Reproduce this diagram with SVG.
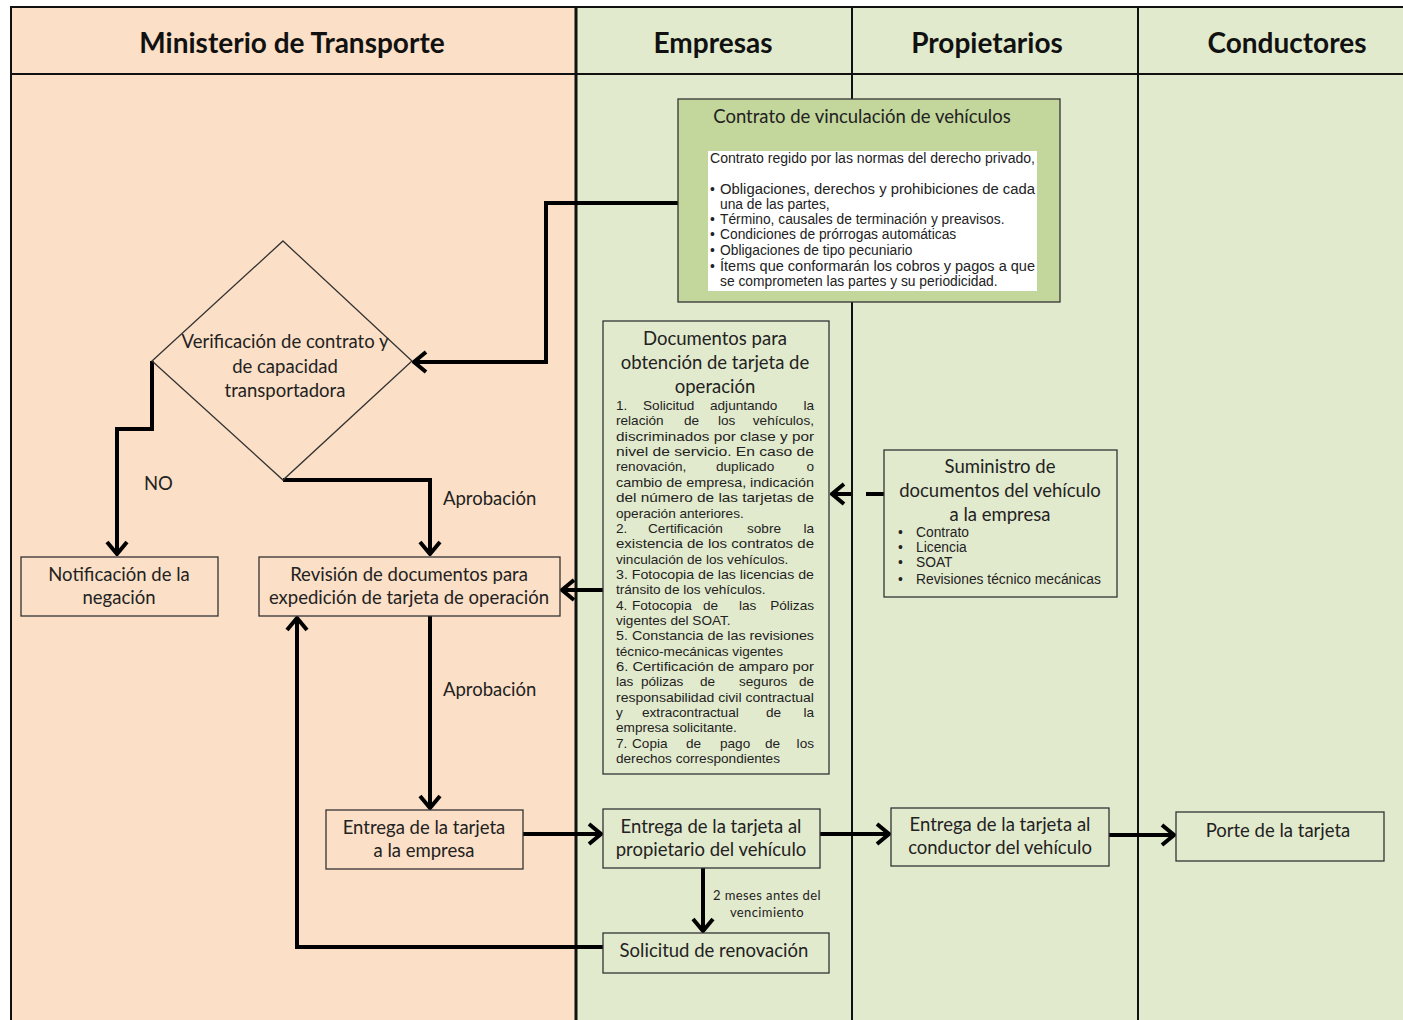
<svg xmlns="http://www.w3.org/2000/svg" width="1403" height="1020" viewBox="0 0 1403 1020">
  <style>
    .lane-mt { fill: #FBDFC6; }
    .lane-gr { fill: #E2EACD; }
    .frame { stroke: #111; stroke-width: 2; fill: none; }
    .hdr { font-family: Lato, "Liberation Sans", sans-serif; font-weight: bold; font-size: 28px; fill: #111; text-anchor: middle; }
    .box { stroke: #333; stroke-width: 1.3; }
    .peach { fill: #FBDFC6; }
    .green { fill: #E2EACD; }
    .t { font-family: Lato, "Liberation Sans", sans-serif; font-size: 18.5px; fill: #222; text-anchor: middle; }
    .tl { font-family: Lato, "Liberation Sans", sans-serif; font-size: 18.5px; fill: #222; }
    .sm { font-family: "Liberation Sans", Arial, sans-serif; font-size: 13.6px; fill: #222; }
    .sm13 { font-family: "Liberation Sans", Arial, sans-serif; font-size: 13.8px; fill: #222; }
    .end { text-anchor: end; }
    .note { font-family: Lato, "Liberation Sans", sans-serif; font-size: 13px; letter-spacing: 0.4px; fill: #222; text-anchor: middle; }
    .conn { fill: none; stroke: #000; stroke-width: 4; stroke-linejoin: miter; marker-end: url(#arr); }
  </style>
  <defs>
    <marker id="arr" markerUnits="userSpaceOnUse" viewBox="0 0 16 24" markerWidth="16" markerHeight="24" refX="14" refY="12" orient="auto">
      <path d="M2,2 L14,12 L2,22" fill="none" stroke="#000" stroke-width="4"/>
    </marker>
  </defs>

  <!-- swimlane backgrounds -->
  <rect class="lane-mt" x="11" y="6" width="565" height="1014"/>
  <rect class="lane-gr" x="576" y="6" width="827" height="1014"/>

  <!-- lane frame and headers -->
  <g id="lanes">
    <line class="frame" x1="11" y1="7" x2="1403" y2="7"/>
    <line class="frame" x1="11" y1="6" x2="11" y2="1020"/>
    <line class="frame" x1="11" y1="74" x2="1403" y2="74"/>
    <line class="frame" x1="576" y1="6" x2="576" y2="1020" style="stroke-width:3"/>
    <line class="frame" x1="852" y1="6" x2="852" y2="1020"/>
    <line class="frame" x1="1138" y1="6" x2="1138" y2="1020"/>
    <text class="hdr" x="292" y="53">Ministerio de Transporte</text>
    <text class="hdr" x="713" y="53">Empresas</text>
    <text class="hdr" x="987" y="53">Propietarios</text>
    <text class="hdr" x="1287" y="53">Conductores</text>
  </g>

  <!-- connectors -->
  <g id="connectors">
    <path class="conn" d="M678,203 H546 V362 H414"/>
    <path class="conn" d="M152,361 V429 H117 V554"/>
    <path class="conn" d="M283,480 H430 V554"/>
    <path class="conn" d="M603,590 H562"/>
    <path class="conn" d="M884,494 H866 M851,494 H832"/>
    <path class="conn" d="M430,616 V808"/>
    <path class="conn" d="M523,834 H601"/>
    <path class="conn" d="M820,834 H889"/>
    <path class="conn" d="M1109,835 H1174"/>
    <path class="conn" d="M703,868 V931"/>
    <path class="conn" d="M603,947 H297 V618"/>
    <text class="tl" x="144" y="490">NO</text>
    <text class="tl" x="443" y="505">Aprobación</text>
    <text class="tl" x="443" y="696">Aprobación</text>
    <text class="note" x="767" y="900">2 meses antes del</text>
    <text class="note" x="767" y="917">vencimiento</text>
  </g>

  <!-- Contrato de vinculación -->
  <g id="contrato">
    <rect class="box" x="678" y="99" width="382" height="203" fill="#C3D69B"/>
    <text class="t" x="862" y="123">Contrato de vinculación de vehículos</text>
    <rect x="708" y="151" width="329" height="140" fill="#fff"/>
    <text class="sm13" x="710" y="163" textLength="325" lengthAdjust="spacingAndGlyphs">Contrato regido por las normas del derecho privado,</text>
    <text class="sm13" x="710" y="194">•</text>
    <text class="sm13" x="720" y="194" textLength="315" lengthAdjust="spacingAndGlyphs">Obligaciones, derechos y prohibiciones de cada</text>
    <text class="sm13" x="720" y="209">una de las partes,</text>
    <text class="sm13" x="710" y="224">•</text>
    <text class="sm13" x="720" y="224">Término, causales de terminación y preavisos.</text>
    <text class="sm13" x="710" y="239">•</text>
    <text class="sm13" x="720" y="239">Condiciones de prórrogas automáticas</text>
    <text class="sm13" x="710" y="255">•</text>
    <text class="sm13" x="720" y="255">Obligaciones de tipo pecuniario</text>
    <text class="sm13" x="710" y="271">•</text>
    <text class="sm13" x="720" y="271" textLength="315" lengthAdjust="spacingAndGlyphs">Ítems que conformarán los cobros y pagos a que</text>
    <text class="sm13" x="720" y="286">se comprometen las partes y su periodicidad.</text>
  </g>

  <!-- Verificación (decision) -->
  <g id="verificacion">
    <polygon class="box" points="283,241 412,361 283,480 152,361" fill="none" stroke-width="1.8"/>
    <text class="t" x="285" y="348">Verificación de contrato y</text>
    <text class="t" x="285" y="373">de capacidad</text>
    <text class="t" x="285" y="397">transportadora</text>
  </g>

  <!-- Documentos para obtención de tarjeta -->
  <g id="documentos">
    <rect class="box green" x="603" y="321" width="226" height="453"/>
    <text class="t" x="715" y="345">Documentos para</text>
    <text class="t" x="715" y="369">obtención de tarjeta de</text>
    <text class="t" x="715" y="393">operación</text>
    <text class="sm" y="410"><tspan x="616">1.</tspan><tspan x="643">Solicitud</tspan><tspan x="710">adjuntando</tspan></text><text class="sm end" x="814" y="410">la</text>
    <text class="sm" y="425.4"><tspan x="616">relación</tspan><tspan x="684">de</tspan><tspan x="718">los</tspan></text><text class="sm end" x="814" y="425.4">vehículos,</text>
    <text class="sm" x="616" y="440.7" textLength="198" lengthAdjust="spacingAndGlyphs">discriminados por clase y por</text>
    <text class="sm" x="616" y="456.1" textLength="198" lengthAdjust="spacingAndGlyphs">nivel de servicio. En caso de</text>
    <text class="sm" y="471.4"><tspan x="616">renovación,</tspan><tspan x="716">duplicado</tspan></text><text class="sm end" x="814" y="471.4">o</text>
    <text class="sm" x="616" y="486.8" textLength="198" lengthAdjust="spacingAndGlyphs">cambio de empresa, indicación</text>
    <text class="sm" x="616" y="502.1" textLength="198" lengthAdjust="spacingAndGlyphs">del número de las tarjetas de</text>
    <text class="sm" x="616" y="517.5">operación anteriores.</text>
    <text class="sm" y="532.8"><tspan x="616">2.</tspan><tspan x="648">Certificación</tspan><tspan x="747">sobre</tspan></text><text class="sm end" x="814" y="532.8">la</text>
    <text class="sm" x="616" y="548.2" textLength="198" lengthAdjust="spacingAndGlyphs">existencia de los contratos de</text>
    <text class="sm" x="616" y="563.5">vinculación de los vehículos.</text>
    <text class="sm" x="616" y="578.9" textLength="198" lengthAdjust="spacingAndGlyphs">3. Fotocopia de las licencias de</text>
    <text class="sm" x="616" y="594.2">tránsito de los vehículos.</text>
    <text class="sm" y="609.6"><tspan x="616">4.</tspan><tspan x="632">Fotocopia</tspan><tspan x="703">de</tspan><tspan x="739">las</tspan></text><text class="sm end" x="814" y="609.6">Pólizas</text>
    <text class="sm" x="616" y="624.9">vigentes del SOAT.</text>
    <text class="sm" x="616" y="640.3" textLength="198" lengthAdjust="spacingAndGlyphs">5. Constancia de las revisiones</text>
    <text class="sm" x="616" y="655.6">técnico-mecánicas vigentes</text>
    <text class="sm" x="616" y="671" textLength="198" lengthAdjust="spacingAndGlyphs">6. Certificación de amparo por</text>
    <text class="sm" y="686.3"><tspan x="616">las</tspan><tspan x="641">pólizas</tspan><tspan x="700">de</tspan><tspan x="739">seguros</tspan></text><text class="sm end" x="814" y="686.3">de</text>
    <text class="sm" x="616" y="701.7" textLength="198" lengthAdjust="spacingAndGlyphs">responsabilidad civil contractual</text>
    <text class="sm" y="717"><tspan x="616">y</tspan><tspan x="642">extracontractual</tspan><tspan x="766">de</tspan></text><text class="sm end" x="814" y="717">la</text>
    <text class="sm" x="616" y="732.4">empresa solicitante.</text>
    <text class="sm" y="747.7"><tspan x="616">7.</tspan><tspan x="632">Copia</tspan><tspan x="686">de</tspan><tspan x="720">pago</tspan><tspan x="765">de</tspan></text><text class="sm end" x="814" y="747.7">los</text>
    <text class="sm" x="616" y="763">derechos correspondientes</text>
  </g>

  <!-- Suministro de documentos -->
  <g id="suministro">
    <rect class="box green" x="884" y="450" width="233" height="147"/>
    <text class="t" x="1000" y="473">Suministro de</text>
    <text class="t" x="1000" y="497">documentos del vehículo</text>
    <text class="t" x="1000" y="521">a la empresa</text>
    <text class="sm13" x="898" y="537">•</text><text class="sm13" x="916" y="537">Contrato</text>
    <text class="sm13" x="898" y="552">•</text><text class="sm13" x="916" y="552">Licencia</text>
    <text class="sm13" x="898" y="567">•</text><text class="sm13" x="916" y="567">SOAT</text>
    <text class="sm13" x="898" y="584">•</text><text class="sm13" x="916" y="584">Revisiones técnico mecánicas</text>
  </g>

  <!-- Notificación de la negación -->
  <g id="notificacion">
    <rect class="box peach" x="21" y="557" width="197" height="59"/>
    <text class="t" x="119" y="581">Notificación de la</text>
    <text class="t" x="119" y="604">negación</text>
  </g>

  <!-- Revisión de documentos -->
  <g id="revision">
    <rect class="box peach" x="259" y="557" width="301" height="59"/>
    <text class="t" x="409" y="581">Revisión de documentos para</text>
    <text class="t" x="409" y="604">expedición de tarjeta de operación</text>
  </g>

  <!-- Entrega a la empresa -->
  <g id="entrega-empresa">
    <rect class="box peach" x="326" y="810" width="197" height="59"/>
    <text class="t" x="424" y="834">Entrega de la tarjeta</text>
    <text class="t" x="424" y="857">a la empresa</text>
  </g>

  <!-- Entrega al propietario -->
  <g id="entrega-propietario">
    <rect class="box green" x="603" y="809" width="217" height="59"/>
    <text class="t" x="711" y="833">Entrega de la tarjeta al</text>
    <text class="t" x="711" y="856">propietario del vehículo</text>
  </g>

  <!-- Entrega al conductor -->
  <g id="entrega-conductor">
    <rect class="box green" x="891" y="808" width="218" height="58"/>
    <text class="t" x="1000" y="831">Entrega de la tarjeta al</text>
    <text class="t" x="1000" y="854">conductor del vehículo</text>
  </g>

  <!-- Porte de la tarjeta -->
  <g id="porte">
    <rect class="box green" x="1176" y="812" width="208" height="49"/>
    <text class="t" x="1278" y="837">Porte de la tarjeta</text>
  </g>

  <!-- Solicitud de renovación -->
  <g id="solicitud">
    <rect class="box green" x="603" y="933" width="226" height="40"/>
    <text class="t" x="714" y="957">Solicitud de renovación</text>
  </g>
</svg>
